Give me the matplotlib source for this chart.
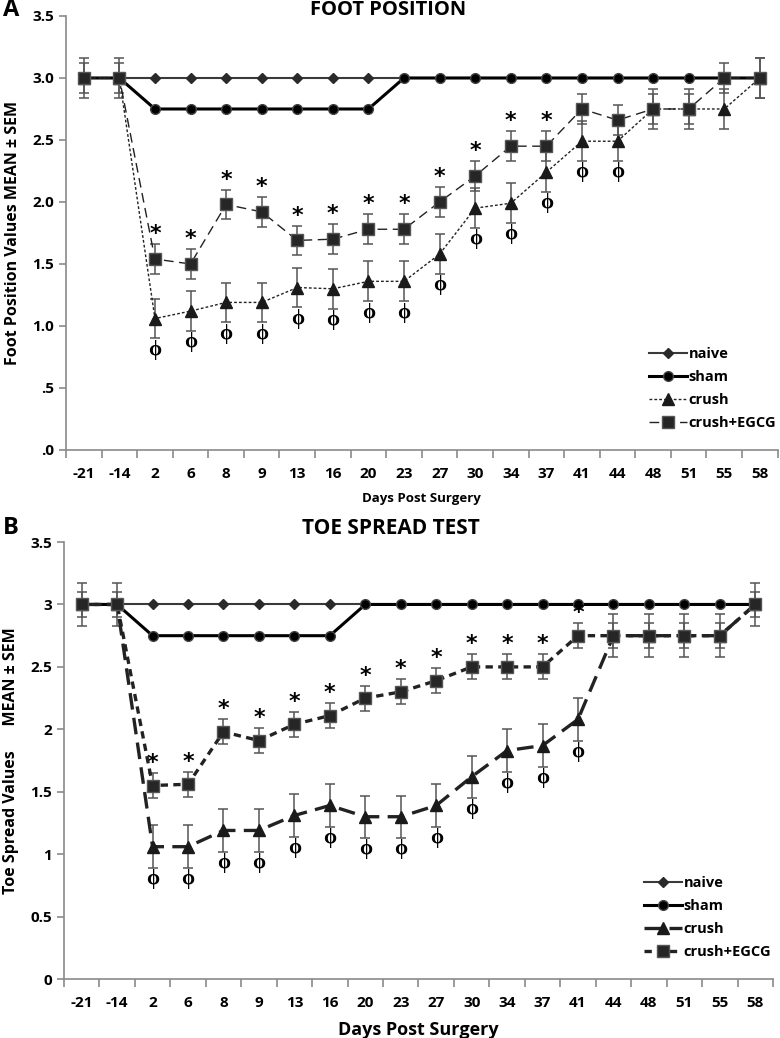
import numpy as np
import matplotlib
matplotlib.use("Agg")
import matplotlib.pyplot as plt
from matplotlib.ticker import FixedLocator, FixedFormatter

plt.rcParams['font.family'] = ['Open Sans', 'DejaVu Sans']
plt.rcParams['font.weight'] = 'bold'

# Kategoriler (gün)
days = ["-21", "-14", "2", "6", "8", "9", "13", "16", "20", "23",
        "27", "30", "34", "37", "41", "44", "48", "51", "55", "58"]

# A: Foot position
fp_naive = [3.0] * 20
fp_sham = [3.0, 3.0, 2.75, 2.75, 2.75, 2.75, 2.75, 2.75, 2.75, 3.0,
           3.0, 3.0, 3.0, 3.0, 3.0, 3.0, 3.0, 3.0, 3.0, 3.0]
fp_crush = [3.0, 3.0, 1.06, 1.12, 1.19, 1.19, 1.31, 1.30, 1.36, 1.36,
            1.58, 1.95, 1.99, 2.24, 2.49, 2.49, 2.75, 2.75, 2.75, 3.0]
fp_crush_sem = [0.16] * 20
fp_egcg = [3.0, 3.0, 1.54, 1.50, 1.98, 1.92, 1.69, 1.70, 1.78, 1.78,
           2.00, 2.21, 2.45, 2.45, 2.75, 2.66, 2.75, 2.75, 3.0, 3.0]
fp_egcg_sem = [0.12, 0.12, 0.12, 0.12, 0.12, 0.12, 0.12, 0.12, 0.12, 0.12,
               0.12, 0.12, 0.12, 0.12, 0.12, 0.12, 0.12, 0.12, 0.12, 0.16]
fp_star = [2, 3, 4, 5, 6, 7, 8, 9, 10, 11, 12, 13]
fp_phi = [2, 3, 4, 5, 6, 7, 8, 9, 10, 11, 12, 13, 14, 15]

# B: Toe spread
ts_naive = [3.0] * 20
ts_sham = [3.0, 3.0, 2.75, 2.75, 2.75, 2.75, 2.75, 2.75, 3.0, 3.0,
           3.0, 3.0, 3.0, 3.0, 3.0, 3.0, 3.0, 3.0, 3.0, 3.0]
ts_crush = [3.0, 3.0, 1.06, 1.06, 1.19, 1.19, 1.31, 1.39, 1.30, 1.30,
            1.39, 1.62, 1.83, 1.87, 2.08, 2.75, 2.75, 2.75, 2.75, 3.0]
ts_crush_sem = [0.17] * 20
ts_egcg = [3.0, 3.0, 1.55, 1.56, 1.98, 1.91, 2.04, 2.11, 2.25, 2.30,
           2.39, 2.50, 2.50, 2.50, 2.75, 2.75, 2.75, 2.75, 2.75, 3.0]
ts_egcg_sem = [0.1] * 20
ts_star = [2, 3, 4, 5, 6, 7, 8, 9, 10, 11, 12, 13, 14]
ts_phi = [2, 3, 4, 5, 6, 7, 8, 9, 10, 11, 12, 13, 14]

fp_yticks = [".0", ".5", "1.0", "1.5", "2.0", "2.5", "3.0", "3.5"]
ts_yticks = ["0", "0.5", "1", "1.5", "2", "2.5", "3", "3.5"]

fig = plt.figure(figsize=(7.8, 10.38), dpi=100)
axA = fig.add_axes([0.0846, 0.5665, 0.9124, 0.4181])
axB = fig.add_axes([0.082, 0.0568, 0.909, 0.421])

x = np.arange(len(days))
EC = "#555555"


def setup_axis(ax, ytick_labels, xlabel, xlabel_size, ylabel):
    ax.set_xlim(-0.5, len(days) - 0.5)
    ax.set_ylim(0, 3.5)
    for s in ["top", "right"]:
        ax.spines[s].set_visible(False)
    for s in ["left", "bottom"]:
        ax.spines[s].set_color("#8a8a8a")
        ax.spines[s].set_linewidth(1.2)
    ax.xaxis.set_major_locator(FixedLocator(np.arange(-0.5, len(days), 1.0)))
    ax.xaxis.set_major_formatter(FixedFormatter([""] * (len(days) + 1)))
    ax.xaxis.set_minor_locator(FixedLocator(x))
    ax.xaxis.set_minor_formatter(FixedFormatter(days))
    ax.tick_params(axis="x", which="major", length=6, color="#8a8a8a", width=1.2)
    ax.tick_params(axis="x", which="minor", length=0, pad=12, labelsize=11)
    ax.set_yticks(np.arange(0, 3.51, 0.5))
    ax.set_yticklabels(ytick_labels)
    ax.tick_params(axis="y", length=5, color="#8a8a8a", width=1.2, labelsize=11)
    ax.set_xlabel(xlabel, fontsize=xlabel_size, fontweight="bold", labelpad=8)
    ax.set_ylabel(ylabel, fontsize=11.5, fontweight="bold", labelpad=8)


def draw_panel(ax, naive, sham, crush, crush_sem, egcg, egcg_sem,
               crush_ls, crush_lw, egcg_ls, egcg_lw, stars, phis):
    ax.plot(x, naive, color="#3a3a3a", lw=1.5, marker="D", ms=5,
            mfc="#2a2a2a", mec="#2a2a2a", label="naive", zorder=2)
    ax.plot(x, sham, color="black", lw=2.2, marker="o", ms=7,
            mfc="black", mec="#444444", label="sham", zorder=3)
    ax.errorbar(x, crush, yerr=crush_sem, fmt="none", ecolor=EC,
                elinewidth=1.1, capsize=3.5, capthick=1.1, zorder=4)
    ax.plot(x, crush, color="#222222", lw=crush_lw, ls=crush_ls, marker="^",
            ms=8, mfc="#1a1a1a", mec="#1a1a1a", label="crush", zorder=5)
    ax.errorbar(x, egcg, yerr=egcg_sem, fmt="none", ecolor=EC,
                elinewidth=1.1, capsize=3.5, capthick=1.1, zorder=6)
    ax.plot(x, egcg, color="#222222", lw=egcg_lw, ls=egcg_ls, marker="s",
            ms=9, mfc="#262626", mec="#555555", label="crush+EGCG", zorder=7)
    for i in stars:
        ax.annotate("*", (x[i], egcg[i] + egcg_sem[i]), xytext=(0, 0),
                    textcoords="offset points", ha="center", va="bottom",
                    fontsize=16, fontweight="bold", family=["DejaVu Sans"])
    for i in phis:
        ax.annotate("ϕ", (x[i], crush[i] - crush_sem[i]), xytext=(0, -1),
                    textcoords="offset points", ha="center", va="top",
                    fontsize=15, fontweight="bold",
                    family=["Liberation Serif", "DejaVu Serif"])
    ax.legend(loc="lower right", bbox_to_anchor=(1.01, 0.025), frameon=False,
              handlelength=2.6, handletextpad=0.1, labelspacing=0.62,
              borderaxespad=0.2, prop={"weight": "bold", "size": 10.5})


draw_panel(axA, fp_naive, fp_sham, fp_crush, fp_crush_sem, fp_egcg, fp_egcg_sem,
           (0, (2, 1.5)), 1.0, (0, (7, 4)), 1.0, fp_star, fp_phi)
setup_axis(axA, fp_yticks, "Days Post Surgery", 9.5,
           "Foot Position Values MEAN \u00b1 SEM")

draw_panel(axB, ts_naive, ts_sham, ts_crush, ts_crush_sem, ts_egcg, ts_egcg_sem,
           (0, (5, 2.5)), 2.4, (0, (2.2, 1.6)), 2.4, ts_star, ts_phi)
setup_axis(axB, ts_yticks, "Days Post Surgery", 13,
           "Toe Spread Values      MEAN \u00b1 SEM")

fig.text(0.497, 1 - 10 / 1038, "FOOT POSITION", fontsize=14.5,
         fontweight="bold", ha="center", va="center")
fig.text(0.501, 1 - 529 / 1038, "TOE SPREAD TEST", fontsize=15,
         fontweight="bold", ha="center", va="center")
fig.text(0.004, 1 - 10 / 1038, "A", fontsize=17, fontweight="bold", va="center")
fig.text(0.004, 1 - 528 / 1038, "B", fontsize=17, fontweight="bold", va="center")

plt.savefig("out.png", dpi=100)
